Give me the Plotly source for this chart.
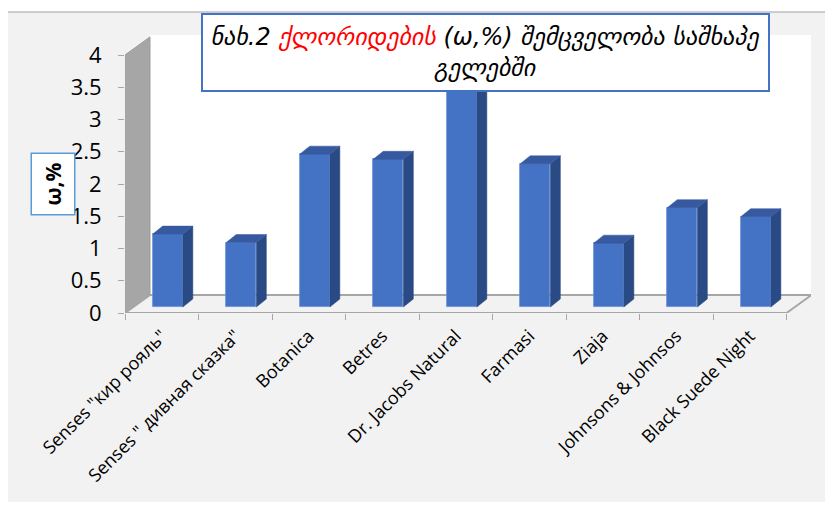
import plotly.graph_objects as go

categories = ['Senses "кир рояль"', 'Senses " дивная сказка"', 'Botanica', 'Betres',
              'Dr. Jacobs Natural', 'Farmasi', 'Ziaja', 'Johnsons & Johnsos', 'Black Suede Night']
values = [1.13, 1.0, 2.37, 2.29, 3.6, 2.22, 0.99, 1.54, 1.40]
y_ticks = [0, 0.5, 1, 1.5, 2, 2.5, 3, 3.5, 4]
y_ticktext = ["0", "0.5", "1", "1.5", "2", "2.5", "3", "3.5", "4"]

W, H = 833, 511
OFF = 8  # page offset of the figure inside the browser window
# target pixel positions (window coords)
PL, PR, PT, PB = 125, 811, 35, 313
ML, MR, MT, MB = PL - OFF, W - (PR - OFF), PT - OFF, H - (PB - OFF)
XR = [-0.5, 8.833]
YR = [0, 4.31]
DX, DY = 0.34, 0.28          # wall/floor depth (data units)
BASE = 0.093                 # bar front sits slightly behind front plane
BW, BOFF = 0.41, -0.123      # bar width / offset
SDX, SDY = 0.136, 0.124      # bar depth

FRONT = "#4472c4"
TOP = "#36599f"
SIDE = "#294a84"
GRAYLINE = "#a6a6a6"

idx = list(range(len(categories)))

fig = go.Figure()

fig.add_trace(go.Bar(x=idx, y=values, base=BASE, width=BW, offset=BOFF,
                     marker=dict(color=FRONT, line=dict(color="#6a8fd8", width=0.8)),
                     hoverinfo="skip", showlegend=False))

sx, sy, tx, ty = [], [], [], []
for i, v in zip(idx, values):
    xl = i + BOFF
    xr = xl + BW
    top = BASE + v
    sx += [xr, xr + SDX, xr + SDX, xr, xr, None]
    sy += [BASE, BASE + SDY, top + SDY, top, BASE, None]
    tx += [xl, xr, xr + SDX, xl + SDX, xl, None]
    ty += [top, top, top + SDY, top + SDY, top, None]

fig.add_trace(go.Scatter(x=sx, y=sy, mode="lines", fill="toself", fillcolor=SIDE,
                         line=dict(width=0.5, color=SIDE), hoverinfo="skip", showlegend=False))
fig.add_trace(go.Scatter(x=tx, y=ty, mode="lines", fill="toself", fillcolor=TOP,
                         line=dict(width=0.5, color=TOP), hoverinfo="skip", showlegend=False))

pw = PR - PL
ph = PB - PT
def px_x(p):
    return (p - PL) / pw
def px_y(p):
    return (PB - p) / ph

shapes = [
    # chart area background
    dict(type="rect", xref="paper", yref="paper", x0=px_x(7), x1=px_x(850), y0=px_y(502), y1=px_y(12),
         fillcolor="#f2f2f2", line=dict(width=0), layer="below"),
    dict(type="line", xref="paper", yref="paper", x0=px_x(7), x1=px_x(850), y0=px_y(12), y1=px_y(12),
         line=dict(color="#a0a0a0", width=1), layer="below"),
    dict(type="line", xref="paper", yref="paper", x0=px_x(7), x1=px_x(7), y0=px_y(12), y1=px_y(502),
         line=dict(color="#a0a0a0", width=1), layer="below"),
    # back wall
    dict(type="rect", xref="x", yref="y", x0=XR[0] + DX, x1=XR[1], y0=DY, y1=YR[1],
         fillcolor="white", line=dict(width=0), layer="below"),
    # left wall
    dict(type="path", xref="x", yref="y",
         path=f"M {XR[0]},0 L {XR[0]},4 L {XR[0]+DX},{4+DY} L {XR[0]+DX},{DY} Z",
         fillcolor="#a6a6a6", line=dict(color="#9a9a9a", width=1), layer="below"),
    # floor
    dict(type="path", xref="x", yref="y",
         path=f"M {XR[0]},0 L 8.5,0 L {8.5+DX},{DY} L {XR[0]+DX},{DY} Z",
         fillcolor="#f2f2f2", line=dict(color=GRAYLINE, width=2), layer="below"),
    # value axis line
    dict(type="line", xref="x", yref="y", x0=XR[0], x1=XR[0], y0=0, y1=4,
         line=dict(color=GRAYLINE, width=1), layer="below"),
]

title_html = ("<i>ნახ.2 <span style='color:#ff0000'>ქლორიდების</span> (ω,%) შემცველობა საშხაპე"
              "<br>გელებში</i>")

annotations = [
    dict(text=title_html, xref="paper", yref="paper", x=px_x(485.5), y=px_y(52.5),
         xanchor="center", yanchor="middle", showarrow=False, align="center",
         font=dict(family="DejaVu Sans", size=24, color="black"),
         bgcolor="white", bordercolor="#4472c4", borderwidth=2, borderpad=1,
         width=563, height=73),
    dict(text="<b>ω,%</b>", xref="paper", yref="paper", x=px_x(52.5), y=px_y(184),
         xanchor="center", yanchor="middle", showarrow=False, textangle=-90,
         font=dict(family="Open Sans", size=21, color="black"),
         bgcolor="white", bordercolor="#5b9bd5", borderwidth=1.5, borderpad=1,
         width=58, height=40),
]

fig.update_layout(
    width=W, height=H,
    margin=dict(l=ML, r=MR, t=MT, b=MB, pad=0),
    paper_bgcolor="white", plot_bgcolor="rgba(0,0,0,0)",
    shapes=shapes, annotations=annotations,
    bargap=0,
    xaxis=dict(range=XR, tickvals=idx, ticktext=categories, tickangle=-45,
               ticks="", showline=False, showgrid=False, zeroline=False,
               tickfont=dict(family="Open Sans", size=18, color="black"), ticklabelstandoff=8,
               minor=dict(tickmode="linear", tick0=-0.5, dtick=1, ticks="outside",
                          ticklen=6, tickcolor=GRAYLINE, showgrid=False)),
    yaxis=dict(range=YR, tickvals=y_ticks, ticktext=y_ticktext, ticks="outside",
               ticklen=6, tickcolor=GRAYLINE, showline=False, showgrid=False, zeroline=False,
               tickfont=dict(family="Open Sans", size=22, color="black"), ticklabelstandoff=12),
)

fig.write_html("out.html")
